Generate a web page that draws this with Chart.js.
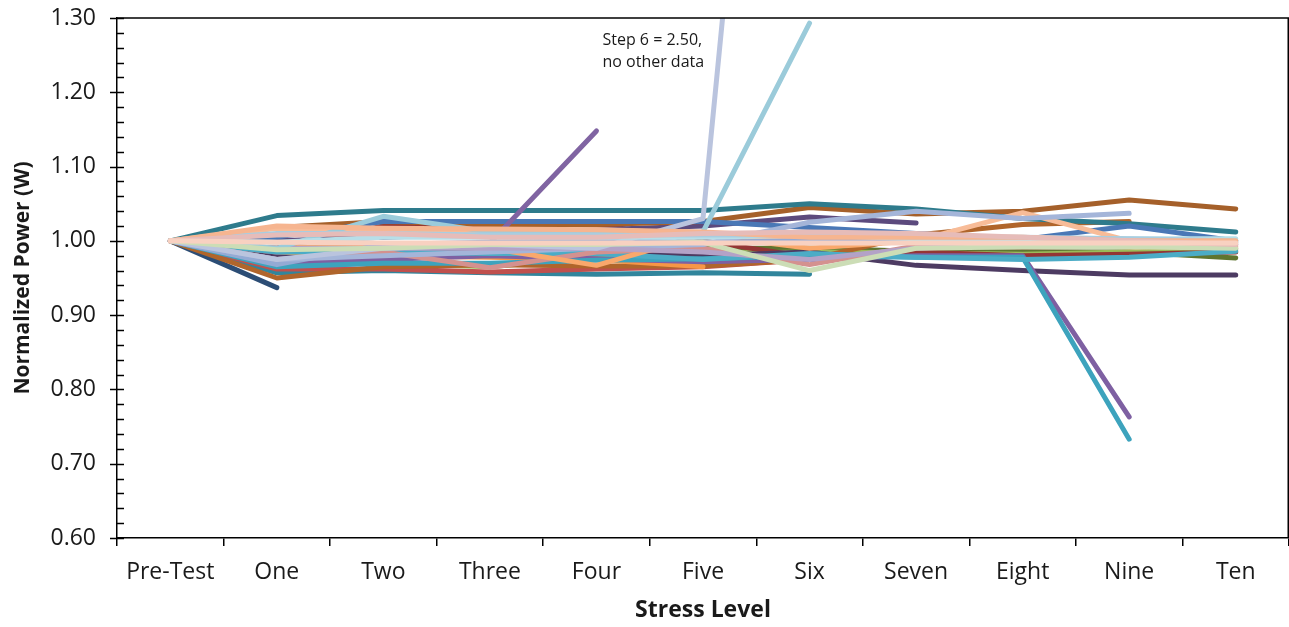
<!DOCTYPE html>
<html>
<head>
<meta charset="utf-8">
<script src="https://cdn.jsdelivr.net/npm/chart.js@4"></script>
<style>
    html, body { margin: 0; padding: 0; background: #fff; }
</style>
</head>
<body>
<canvas id="powerChart" width="1289" height="627"></canvas>
<script>
const stressLevels = ['Pre-Test', 'One', 'Two', 'Three', 'Four', 'Five', 'Six', 'Seven', 'Eight', 'Nine', 'Ten'];
const yMin = 0.60, yMax = 1.30, yMajor = 0.10, yMinor = 0.02;

// one array per unit, normalized to the pre-test value (drawn bottom to top)
const unit01 = [1.000, 0.937];
const unit02 = [1.000, 0.957, 0.960, 0.957, 0.955, 0.957, 0.955];
const unit03 = [1.000, 0.962, 0.962, 0.958, 0.962, 0.965, 0.975, 0.983, 0.985, 0.984, 0.990];
const unit04 = [1.000, 0.980, 0.985, 0.985, 0.988, 0.990, 0.990, 0.986, 0.985, 0.985, 0.977];
const unit05 = [1.000, 0.975, 0.970, 0.965, 0.978, 0.983, 0.985, 0.984, 0.982, 0.985, 0.988];
const unit06 = [1.000, 0.990, 1.020, 1.022, 1.022, 1.000, 0.978, 0.985, 0.980, 0.982, 0.985];
const unit07 = [1.000, 0.980, 0.985, 0.990, 0.985, 0.980, 0.985, 0.967, 0.960, 0.954, 0.954];
const unit08 = [1.000, 0.950, 0.965, 0.968, 0.966, 0.966, 0.975, 1.008, 1.022, 1.026];
const unit09 = [1.000, 1.000, 1.005, 1.010, 1.015, 1.020, 1.032, 1.024];
const unit10 = [1.000, 1.018, 1.026, 1.022, 1.022, 1.026, 1.045, 1.036, 1.040, 1.055, 1.043];
const unit11 = [1.000, 1.034, 1.041, 1.041, 1.041, 1.041, 1.050, 1.043, 1.030, 1.023, 1.012];
const unit12 = [1.000, 1.005, 1.026, 1.026, 1.026, 1.026, 1.018, 1.010, 1.002, 1.020, 1.000];
const unit13 = [1.000, 0.985, 0.980, 0.978, 0.975, 0.965];
const unit14 = [1.000, 0.970, 0.975, 0.980, 0.976, 0.972, 0.975, 0.980, 0.980, 0.763];
const unit15 = [1.000, 0.965, 0.970, 0.970, 0.974, 0.976, 0.980, 0.978, 0.978, 0.733];
const unit16 = [1.000, 0.985, 0.990, 0.997, 1.148];
const unit17 = [1.000, 0.985, 0.985, 0.983, 0.983, 0.975, 0.983, 0.978, 0.975, 0.978, 0.986];
const unit18 = [1.000, 0.975, 0.985, 0.964, 0.985, 0.990, 0.968, 0.993, 0.995, 0.995, 0.994];
const unit19 = [1.000, 0.990, 0.995, 0.990, 0.967, 1.008, 0.990, 1.000, 0.995, 0.992, 0.992];
const unit20 = [1.000, 1.017, 1.015, 1.012, 1.015, 1.010, 1.000, 1.000, 1.038, 1.000, 0.998];
const unit21 = [1.000, 0.968, 0.995, 0.998, 1.000, 0.998, 1.000, 0.998, 0.998, 0.998, 0.997];
const unit22 = [1.000, 0.975, 0.980, 0.985, 0.990, 0.995, 1.025, 1.040, 1.030, 1.037];
const unit23 = [1.000, 0.990, 0.990, 0.990, 0.990, 0.985, 0.975, 0.990, 0.995, 1.000, 0.995];
const unit24 = [1.000, 0.990, 1.033, 1.012, 1.010, 1.012, 1.293];
const unit25 = [1.000, 0.975, 0.990, 0.995, 0.990, 1.030, 2.500];
const unit26 = [1.000, 0.998, 1.005, 1.005, 1.005, 1.005, 1.008, 1.003, 1.003, 1.003, 1.003];
const unit27 = [1.000, 1.010, 1.010, 1.008, 1.008, 1.008, 1.008, 1.005, 1.005, 1.003, 1.000];
const unit28 = [1.000, 0.988, 0.990, 0.995, 0.995, 0.998, 0.960, 0.990, 0.992, 0.992, 0.990];
const unit29 = [1.000, 1.020, 1.017, 1.016, 1.015, 1.012, 1.005, 1.005, 1.005, 1.000, 1.000];
const unit30 = [1.000, 1.008, 1.010, 1.005, 1.005, 1.010, 1.012, 1.010, 1.005, 1.000, 0.995];
const unit31 = [1.000, 0.998, 0.997, 0.997, 0.997, 0.997, 0.997, 0.997, 0.997, 0.997, 0.997];

const units = [unit01, unit02, unit03, unit04, unit05, unit06, unit07, unit08, unit09, unit10,
    unit11, unit12, unit13, unit14, unit15, unit16, unit17, unit18, unit19, unit20,
    unit21, unit22, unit23, unit24, unit25, unit26, unit27, unit28, unit29, unit30, unit31];

const unitColors = ['#2C4D75', '#31859C', '#C0504D', '#5F7530', '#9BBB59', '#943634', '#4D3B62', '#B0652B',
    '#5C4A7D', '#A5602A', '#2E7B8C', '#4A78B6', '#F79646', '#7E60A2', '#3DA3BD', '#8064A2',
    '#4BACC6', '#D4918F', '#F9A86C', '#F8BC98', '#94AAD4', '#A4B5D9', '#B3A2C7', '#9BCBDA',
    '#BAC4DE', '#B7DEE8', '#A9CDE0', '#CCDDB6', '#F6B590', '#E6BCB9', '#F8D1C1'];

const noteLines = ['Step 6 = 2.50,', 'no other data'];

const fontFamily = "'Open Sans', sans-serif";
const ink = '#1a1a1a';

// chart.js draws dataset 0 on top, so reverse to keep the last unit on top
const datasets = units.map((data, i) => ({
    label: 'Unit ' + (i + 1),
    data: data,
    borderColor: unitColors[i],
    backgroundColor: unitColors[i],
    borderWidth: 5,
    borderCapStyle: 'round',
    borderJoinStyle: 'round',
    pointRadius: 0,
    pointHoverRadius: 0,
    tension: 0,
    fill: false,
    clip: 0
})).reverse();

const axisDecor = {
    id: 'axisDecor',
    afterDraw(chart) {
        const {ctx, chartArea, scales} = chart;
        const y = scales.y, x = scales.x;
        ctx.save();
        ctx.strokeStyle = '#000';
        ctx.lineWidth = 1.5;
        // minor and major ticks on the value axis
        const steps = Math.round((yMax - yMin) / yMinor);
        for (let i = 0; i <= steps; i++) {
            const v = yMin + i * yMinor;
            const py = Math.round(y.getPixelForValue(v)) + 0.5;
            const major = i % Math.round(yMajor / yMinor) === 0;
            ctx.beginPath();
            ctx.moveTo(chartArea.left - (major ? 7 : 0), py);
            ctx.lineTo(chartArea.left + 7, py);
            ctx.stroke();
        }
        // plot box top and right
        ctx.beginPath();
        ctx.moveTo(chartArea.left, chartArea.top);
        ctx.lineTo(chartArea.right - 0.75, chartArea.top);
        ctx.lineTo(chartArea.right - 0.75, chartArea.bottom);
        ctx.stroke();
        // note about the unit that jumped off the chart
        ctx.fillStyle = ink;
        ctx.font = "16px " + fontFamily;
        ctx.textAlign = 'left';
        ctx.textBaseline = 'middle';
        const nx = x.getPixelForValue(4) + 6;
        const ny = y.getPixelForValue(1.27);
        noteLines.forEach((t, i) => ctx.fillText(t, nx, ny + i * 22));
        ctx.restore();
    }
};

const ctx = document.getElementById('powerChart').getContext('2d');
const powerChart = new Chart(ctx, {
    type: 'line',
    data: {
        labels: stressLevels,
        datasets: datasets
    },
    options: {
        responsive: false,
        animation: false,
        layout: { autoPadding: false, padding: { top: 18, right: 0, left: 0, bottom: 0 } },
        plugins: {
            legend: { display: false },
            title: { display: false },
            tooltip: { enabled: false }
        },
        scales: {
            x: {
                type: 'category',
                offset: true,
                grid: {
                    offset: true,
                    drawOnChartArea: false,
                    drawTicks: true,
                    tickLength: 8,
                    color: '#000',
                    lineWidth: 1.5
                },
                border: { color: '#000', width: 1.5 },
                ticks: {
                    color: ink,
                    padding: 13,
                    maxRotation: 0,
                    autoSkip: false,
                    font: { family: fontFamily, size: 23 }
                },
                title: {
                    display: true,
                    text: 'Stress Level',
                    color: ink,
                    padding: { top: 0, bottom: 3 },
                    font: { family: fontFamily, size: 23, weight: 'bold' }
                },
                afterFit(scale) {
                    scale.height = 89;
                    scale.paddingLeft = 0;
                    scale.paddingRight = 0;
                }
            },
            y: {
                min: yMin,
                max: yMax,
                grid: { display: false, drawTicks: false },
                border: { color: '#000', width: 1.5 },
                ticks: {
                    stepSize: yMajor,
                    color: ink,
                    padding: 21,
                    autoSkip: false,
                    font: { family: fontFamily, size: 23 },
                    callback: (v) => v.toFixed(2)
                },
                title: {
                    display: true,
                    text: 'Normalized Power (W)',
                    color: ink,
                    padding: { top: 10, bottom: 0 },
                    font: { family: fontFamily, size: 21, weight: 'bold' }
                },
                afterFit(scale) {
                    scale.width = 117;
                    scale.paddingTop = 0;
                    scale.paddingBottom = 0;
                }
            }
        }
    },
    plugins: [axisDecor]
});
</script>
</body>
</html>
